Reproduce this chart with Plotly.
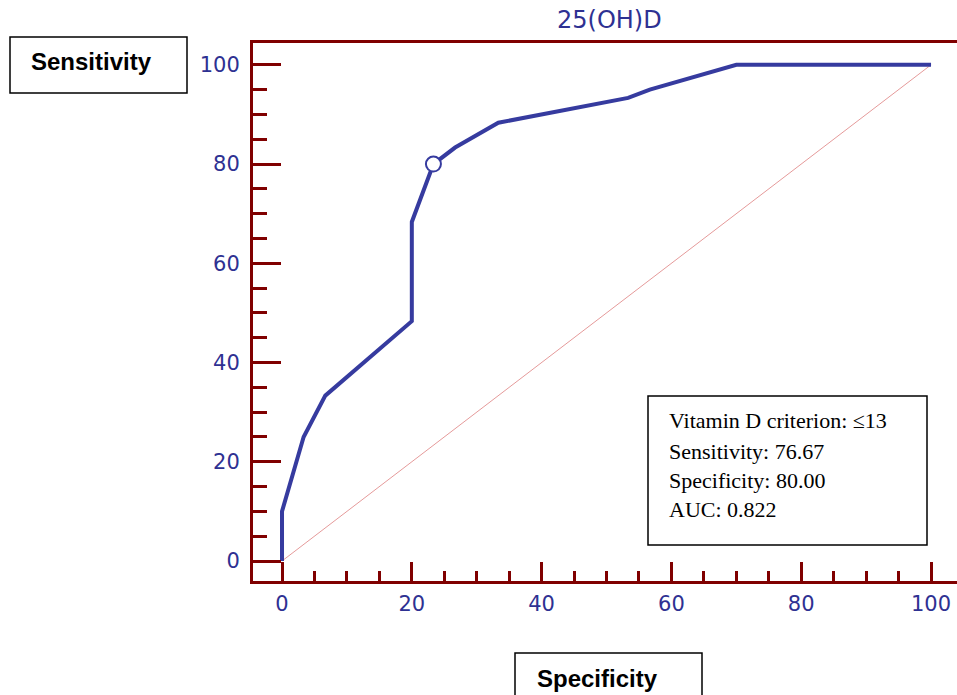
import plotly.graph_objects as go

# ---- data ----
roc_x = [0, 0, 3.33, 6.67, 20, 20, 23.33, 26.67, 33.33, 53.33, 56.67, 70, 100]
roc_y = [0, 10, 25, 33.33, 48.33, 68.33, 80, 83.33, 88.33, 93.33, 95, 100, 100]
ref_x = [0, 100]
ref_y = [0, 100]
cut_x = [23.33]
cut_y = [80]
tick_vals = [0, 20, 40, 60, 80, 100]
info_lines = ["Vitamin D criterion: \u226413", "Sensitivity: 76.67",
              "Specificity: 80.00", "AUC: 0.822"]
title_text = "25(OH)D"
y_label = "Sensitivity"
x_label = "Specificity"

W, H = 957, 695
L, R, T, B = 253, 0, 43, 114
PW = W - L - R
PH = H - T - B

def px(x):
    return (x - L) / PW

def py(y):
    return (H - B - y) / PH

DARKRED = "#800000"
BLUE = "#363b9f"
TICKBLUE = "#2e3192"

fig = go.Figure()
fig.add_trace(go.Scatter(x=ref_x, y=ref_y, mode="lines",
                         line=dict(color="#e59a9a", width=1), hoverinfo="skip"))
fig.add_trace(go.Scatter(x=roc_x, y=roc_y, mode="lines",
                         line=dict(color=BLUE, width=4)))
fig.add_trace(go.Scatter(x=cut_x, y=cut_y, mode="markers",
                         marker=dict(size=15, color="white",
                                     line=dict(color=BLUE, width=2))))

axis_common = dict(showgrid=False, zeroline=False, showline=True,
                   linecolor=DARKRED, linewidth=3, ticks="inside",
                   tickcolor=DARKRED, tickwidth=3, tickvals=tick_vals,
                   tickfont=dict(family="DejaVu Sans", size=21, color=TICKBLUE))

fig.update_xaxes(**axis_common, range=[-4.47, 104.0], ticklen=19, mirror=True,
                 minor=dict(dtick=5, tick0=0, ticks="inside", ticklen=10,
                            tickwidth=2.5, tickcolor=DARKRED),
                 ticklabelstandoff=2)
fig.update_yaxes(**axis_common, range=[-4.03, 104.4], ticklen=28,
                 minor=dict(dtick=5, tick0=0, ticks="inside", ticklen=14,
                            tickwidth=2.5, tickcolor=DARKRED),
                 ticklabelstandoff=6)

shapes = [
    dict(type="rect", xref="paper", yref="paper", x0=px(10), x1=px(187),
         y0=py(93), y1=py(37), line=dict(color="black", width=1.5)),
    dict(type="rect", xref="paper", yref="paper", x0=px(515), x1=px(702),
         y0=py(720), y1=py(653), line=dict(color="black", width=1.5)),
    dict(type="rect", xref="paper", yref="paper", x0=px(648), x1=px(927),
         y0=py(545), y1=py(396), line=dict(color="black", width=1.5),
         fillcolor="white", layer="above"),
]

annotations = [
    dict(text=title_text, xref="paper", yref="paper", x=px(609), y=py(20),
         showarrow=False, xanchor="center", yanchor="middle",
         font=dict(family="DejaVu Sans", size=24, color=TICKBLUE)),
    dict(text="<b>%s</b>" % y_label, xref="paper", yref="paper", x=px(91), y=py(62),
         showarrow=False, xanchor="center", yanchor="middle",
         font=dict(family="Liberation Sans", size=24, color="black")),
    dict(text="<b>%s</b>" % x_label, xref="paper", yref="paper", x=px(597), y=py(678),
         showarrow=False, xanchor="center", yanchor="middle",
         font=dict(family="Liberation Sans", size=24, color="black")),
]
for i, (line, yc) in enumerate(zip(info_lines, [421, 451, 480, 509])):
    annotations.append(dict(text=line, xref="paper", yref="paper", x=px(667), y=py(yc),
                            showarrow=False, xanchor="left", yanchor="middle",
                            font=dict(family="Liberation Serif", size=22, color="black")))

fig.update_layout(width=W, height=H, margin=dict(l=L, r=R, t=T, b=B, pad=0),
                  plot_bgcolor="white", paper_bgcolor="white", showlegend=False,
                  shapes=shapes, annotations=annotations)

fig.write_html("out.html", config={"displayModeBar": False},
               post_script="document.body.style.margin='0';")
